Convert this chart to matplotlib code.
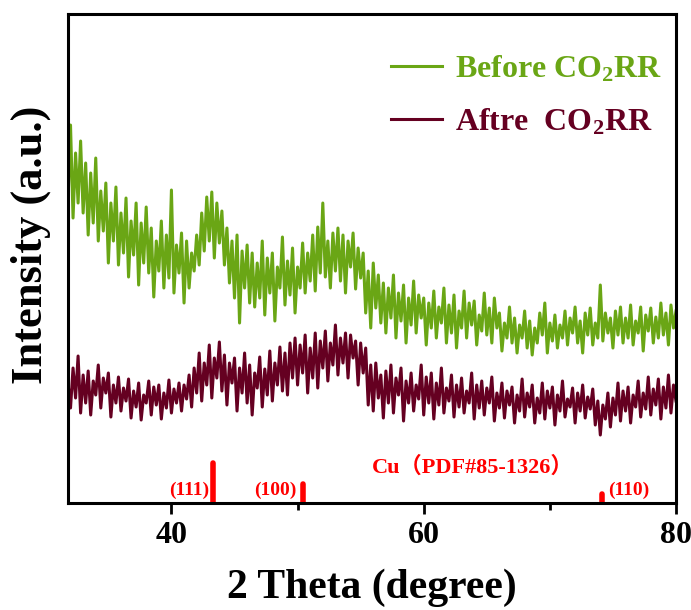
import numpy as np
import matplotlib
matplotlib.use('Agg')
import matplotlib.pyplot as plt

plt.rcParams['font.family'] = ['Liberation Serif', 'Noto Sans CJK SC']
plt.rcParams['font.weight'] = 'bold'
plt.rcParams['axes.labelweight'] = 'bold'
plt.rcParams['mathtext.fontset'] = 'custom'
plt.rcParams['mathtext.rm'] = 'Liberation Serif:bold'
plt.rcParams['mathtext.it'] = 'Liberation Serif:bold'
plt.rcParams['mathtext.bf'] = 'Liberation Serif:bold'

# 2 theta grid, 0.2 degree step from 31.8 to 80.0
two_theta = np.round(np.arange(31.8, 80.01, 0.2), 1)

before = [300,
          378, 285, 350, 300, 362, 290, 340, 268, 330, 280,
          345, 262, 312, 272, 320, 240, 300, 262, 316, 238,
          290, 250, 305, 226, 282, 248, 300, 218, 280, 240,
          296, 230, 275, 206, 262, 232, 282, 215, 268, 225,
          313, 210, 258, 230, 270, 200, 262, 215, 250, 232,
          268, 238, 290, 252, 306, 262, 311, 245, 300, 260,
          292, 238, 275, 220, 262, 205, 268, 180, 252, 215,
          258, 200, 250, 196, 240, 205, 262, 188, 245, 210,
          250, 182, 236, 215, 266, 198, 242, 208, 255, 190,
          236, 215, 260, 210, 250, 222, 268, 212, 276, 230,
          300, 226, 262, 215, 270, 232, 275, 222, 268, 210,
          262, 236, 270, 214, 255, 225, 250, 190, 232, 175,
          240, 195, 228, 180, 220, 170, 215, 185, 228, 165,
          210, 182, 218, 160, 205, 178, 222, 170, 208, 185,
          205, 158, 200, 175, 212, 165, 196, 180, 215, 160,
          198, 170, 208, 155, 192, 175, 212, 165, 200, 178,
          202, 158, 188, 172, 210, 168, 195, 160, 205, 175,
          190, 152, 180, 165, 196, 160, 185, 150, 178, 165,
          192, 155, 182, 148, 175, 160, 190, 168, 200, 150,
          180, 162, 188, 155, 178, 165, 192, 158, 185, 170,
          196, 160, 182, 150, 190, 168, 195, 158, 180, 165,
          218, 162, 190, 170, 185, 155, 192, 168, 196, 160,
          185, 165, 198, 158, 182, 170, 196, 152, 188, 172,
          195, 160, 186, 165, 200, 168, 190, 158, 198, 175,
          192]

after = [120,
         95, 135, 105, 147, 90, 128, 100, 132, 88, 122,
         108, 138, 95, 125, 110, 130, 86, 118, 100, 126,
         92, 115, 102, 124, 85, 112, 96, 120, 83, 108,
         100, 122, 88, 116, 98, 118, 84, 110, 95, 123,
         90, 114, 100, 120, 92, 118, 104, 128, 96, 135,
         110, 150, 102, 140, 118, 158, 105, 145, 125, 161,
         112, 148, 98, 140, 120, 145, 92, 135, 110, 150,
         100, 138, 88, 130, 115, 146, 96, 134, 108, 152,
         102, 140, 118, 156, 112, 150, 108, 160, 125, 165,
         118, 158, 130, 168, 110, 155, 125, 170, 115, 162,
         135, 172, 122, 160, 138, 178, 128, 165, 140, 170,
         125, 168, 145, 162, 118, 160, 130, 155, 98, 138,
         92, 140, 105, 128, 85, 132, 100, 138, 90, 125,
         108, 135, 82, 122, 100, 130, 92, 118, 104, 138,
         88, 126, 100, 130, 84, 120, 98, 135, 90, 115,
         102, 128, 86, 118, 96, 125, 90, 112, 100, 130,
         84, 118, 95, 122, 88, 115, 100, 126, 82, 110,
         95, 120, 85, 112, 98, 116, 80, 108, 92, 124,
         86, 110, 96, 118, 80, 105, 90, 120, 84, 112,
         95, 116, 78, 108, 92, 122, 86, 104, 96, 115,
         80, 110, 92, 118, 85, 106, 94, 114, 78, 102,
         68, 98, 84, 110, 76, 105, 88, 120, 82, 112,
         92, 116, 80, 108, 96, 122, 86, 110, 94, 126,
         88, 114, 98, 124, 84, 116, 95, 128, 90, 118,
         102]

# Cu reference, PDF#85-1326
cu_pos = [43.3, 50.4, 74.1]
cu_int = [40, 19, 9]
cu_hkl = ['(111)', '(100)', '(110)']

green = '#6aa615'
maroon = '#650021'

fig = plt.figure(figsize=(6.91, 6.10), dpi=100)
ax = fig.add_axes([0.0984, 0.1754, 0.8799, 0.8016])

ax.plot(two_theta, before, color=green, lw=2.2, label='Before CO$_2$RR')
ax.plot(two_theta, after, color=maroon, lw=2.2, label='Aftre  CO$_2$RR')

lc = ax.vlines(cu_pos, 0, cu_int, colors='red', lw=4)
lc.set_capstyle('round')

ax.text(cu_pos[0] - 0.3, 13, cu_hkl[0], color='red', fontsize=14, ha='right', va='center')
ax.text(cu_pos[1] - 0.5, 13, cu_hkl[1], color='red', fontsize=14, ha='right', va='center')
ax.text(cu_pos[2] + 0.5, 13, cu_hkl[2], color='red', fontsize=14, ha='left', va='center')
ax.text(55.9, 36, 'Cu（PDF#85-1326）', color='red', fontsize=16, ha='left', va='center')

ax.set_xlim(31.8, 80)
ax.set_ylim(0, 489)
ax.set_xticks([40, 60, 80])
ax.set_xticks([50, 70], minor=True)
ax.set_yticks([])
ax.tick_params(axis='x', which='major', length=8, width=2, labelsize=23, pad=5)
ax.tick_params(axis='x', which='minor', length=5, width=2)
for s in ax.spines.values():
    s.set_linewidth(2.2)

ax.set_xlabel('2 Theta (degree)', fontsize=30, fontweight='bold', labelpad=13)
ax.set_ylabel('Intensity (a.u.)', fontsize=32, fontweight='bold')
ax.yaxis.set_label_coords(-0.028, 0.528)

ax.legend(loc='upper right', bbox_to_anchor=(1.025, 0.978), frameon=False,
          fontsize=23, handlelength=1.6, handletextpad=0.4, labelspacing=0.72,
          labelcolor='linecolor')

plt.savefig('out.png')
